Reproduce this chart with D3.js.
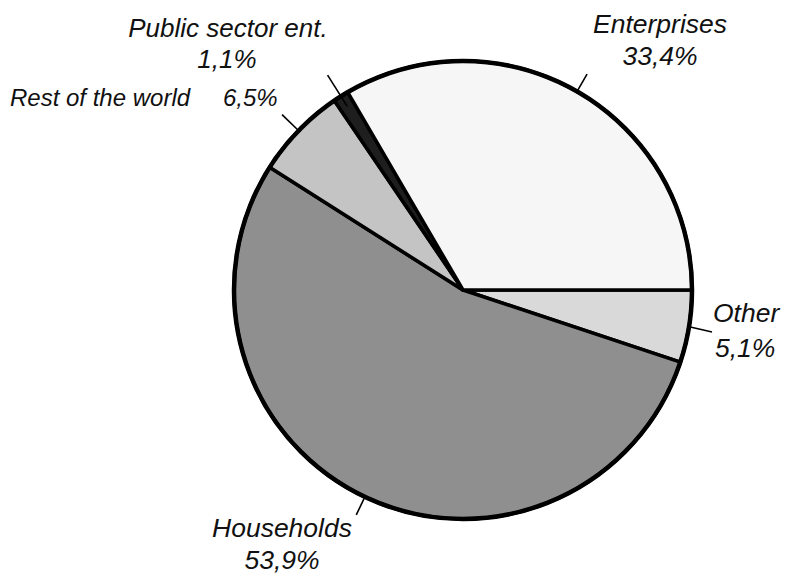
<!DOCTYPE html>
<html>
<head>
<meta charset="utf-8">
<script src="https://cdn.jsdelivr.net/npm/d3@7"></script>
<style>
  body { margin: 0; background: #fff; }
  text { font-family: "Liberation Sans", Arial, sans-serif; font-style: italic; fill: #111; }
</style>
</head>
<body>
<div id="chart"></div>
<script>
// pie slices, clockwise from 3 o'clock
const categories = ['Other', 'Households', 'Rest of the world', 'Public sector ent.', 'Enterprises'];
const shares = [5.1, 53.9, 6.5, 1.1, 33.4];
const shareLabels = ['5,1%', '53,9%', '6,5%', '1,1%', '33,4%'];

const width = 785;
const height = 576;
const cx = 463;
const cy = 290;
const radius = 229;

const fills = ['#d9d9d9', '#8f8f8f', '#c4c4c4', '#1e1e1e', '#f6f6f6'];

// label layout: leader line [inner r, outer r] or explicit end, then two text lines
const labelLayout = [
  { lead: [radius - 2, null], leadEnd: [712, 332], name: [713, 322, 'start'], pct: [715, 357, 'start'], size: 26.5 },
  { lead: [radius - 2, radius + 20], name: [282, 537, 'middle'], pct: [282, 569, 'middle'], size: 26.5 },
  { lead: [radius - 2, radius + 23], name: [10, 106, 'start'], pct: [223, 106, 'start'], size: 24 },
  { lead: [radius - 12, radius + 25], name: [228, 37, 'middle'], pct: [227, 68, 'middle'], size: 26 },
  { lead: [radius - 2, radius + 20], name: [660, 33, 'middle'], pct: [660, 65, 'middle'], size: 26.5 }
];

const svg = d3.select('#chart').append('svg')
  .attr('width', width)
  .attr('height', height);

const pie = d3.pie()
  .sort(null)
  .startAngle(Math.PI / 2)
  .endAngle(Math.PI / 2 + 2 * Math.PI);

const arc = d3.arc()
  .innerRadius(0)
  .outerRadius(radius);

const slices = pie(shares);

const g = svg.append('g')
  .attr('transform', `translate(${cx},${cy})`);

g.selectAll('path')
  .data(slices)
  .enter().append('path')
  .attr('d', arc)
  .attr('fill', (d, i) => fills[i])
  .attr('stroke', '#000')
  .attr('stroke-width', 3.5)
  .attr('stroke-linejoin', 'round');

// thicker outer rim
g.append('circle')
  .attr('r', radius)
  .attr('fill', 'none')
  .attr('stroke', '#000')
  .attr('stroke-width', 4.5);

const polar = (a, r) => [r * Math.sin(a), -r * Math.cos(a)];

slices.forEach((d, i) => {
  const lay = labelLayout[i];
  const mid = (d.startAngle + d.endAngle) / 2;
  const p0 = polar(mid, lay.lead[0]);
  const p1 = lay.leadEnd ? [lay.leadEnd[0] - cx, lay.leadEnd[1] - cy] : polar(mid, lay.lead[1]);
  g.append('line')
    .attr('x1', p0[0]).attr('y1', p0[1])
    .attr('x2', p1[0]).attr('y2', p1[1])
    .attr('stroke', '#000')
    .attr('stroke-width', 1.6);

  svg.append('text')
    .attr('x', lay.name[0])
    .attr('y', lay.name[1])
    .attr('text-anchor', lay.name[2])
    .style('font-size', lay.size + 'px')
    .text(categories[i]);

  svg.append('text')
    .attr('x', lay.pct[0])
    .attr('y', lay.pct[1])
    .attr('text-anchor', lay.pct[2])
    .style('font-size', lay.size + 'px')
    .text(shareLabels[i]);
});
</script>
</body>
</html>
